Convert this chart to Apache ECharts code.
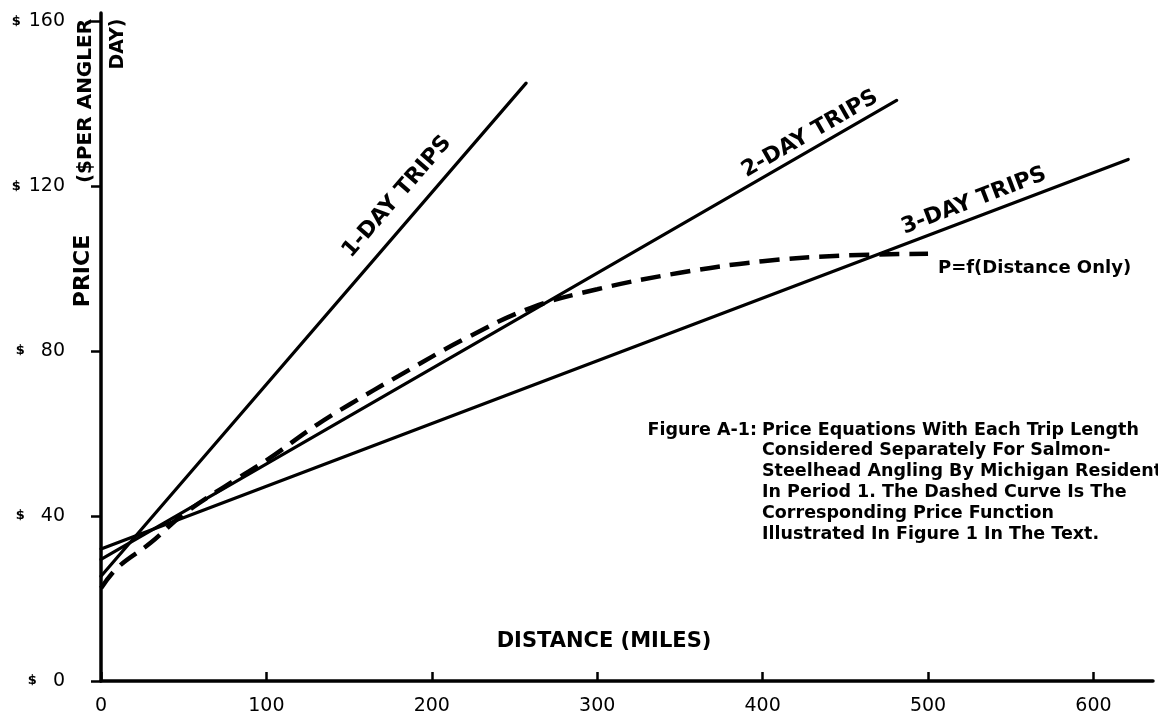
<!DOCTYPE html>
<html>
<head>
<meta charset="utf-8">
<script src="https://cdn.jsdelivr.net/npm/echarts@6/dist/echarts.min.js"></script>
<style>
html,body{margin:0;padding:0;background:#fff;}
#chart{width:1158px;height:723px;}
</style>
</head>
<body>
<div id="chart"></div>
<script>
// ---- data ----
var xTicks = [0, 100, 200, 300, 400, 500, 600];
var yTicks = [0, 40, 80, 120, 160];
var oneDay   = [[0, 25.4], [257, 145]];
var twoDay   = [[0, 29.5], [481, 140.8]];
var threeDay = [[0, 32], [621, 126.5]];
var distOnly = [[0, 22.5], [10, 27.5], [30, 33.5], [50, 40.5], [80, 48.5], [100, 53.5],
                [130, 62], [150, 67], [180, 74], [220, 83], [260, 90.5], [300, 95],
                [350, 99], [400, 101.8], [450, 103.2], [500, 103.6]];
var captionLines = [
  'Price Equations With Each Trip Length',
  'Considered Separately For Salmon-',
  'Steelhead Angling By Michigan Resident',
  'In Period 1. The Dashed Curve Is The',
  'Corresponding Price Function',
  'Illustrated In Figure 1 In The Text.'
];

var FONT = 'DejaVu Sans';
var chart = echarts.init(document.getElementById('chart'), null, {renderer: 'canvas'});

function solid(name, data) {
  return {
    name: name, type: 'line', data: data, showSymbol: false, symbol: 'none',
    lineStyle: {color: '#000', width: 3.2, cap: 'round'}, z: 3, animation: false
  };
}

var graphics = [];
function txt(text, x, y, opt) {
  opt = opt || {};
  graphics.push({
    type: 'text', x: x, y: y, rotation: opt.rot ? opt.rot * Math.PI / 180 : 0,
    style: {
      text: text, fill: '#000', font: 'bold ' + (opt.size || 18) + 'px "' + FONT + '"',
      textAlign: opt.align || 'center', textVerticalAlign: 'middle'
    },
    z: 10
  });
}
txt('1-DAY TRIPS', 397, 197, {rot: 49, size: 22});
txt('2-DAY TRIPS', 810, 134, {rot: 30, size: 22});
txt('3-DAY TRIPS', 974, 201, {rot: 21, size: 22});
txt('P=f(Distance Only)', 938, 268, {align: 'left', size: 18});
txt('DISTANCE (MILES)', 604, 642, {size: 21});
txt('PRICE', 83, 271, {rot: 90, size: 22});
txt('($PER ANGLER', 86, 101, {rot: 90, size: 20});
txt('DAY)', 118, 44, {rot: 90, size: 19});
txt('Figure A-1:', 757, 430, {align: 'right', size: 17.5});
captionLines.forEach(function (l, i) {
  txt(l, 762, 430 + i * 20.8, {align: 'left', size: 17.5});
});

var option = {
  backgroundColor: '#fff',
  animation: false,
  grid: {left: 101, right: 5, top: 13, bottom: 42, containLabel: false},
  xAxis: {
    type: 'value', min: 0, max: 636, interval: 100,
    axisLine: {show: true, onZero: false, lineStyle: {color: '#000', width: 3.5}},
    axisTick: {show: true, inside: true, length: 9, lineStyle: {color: '#000', width: 2.5},
               customValues: xTicks},
    axisLabel: {
      customValues: xTicks, margin: 16, color: '#000',
      fontFamily: FONT, fontSize: 19, fontWeight: 'normal',
      formatter: function (v) { return xTicks.indexOf(v) >= 0 ? String(v) : ''; }
    },
    splitLine: {show: false}
  },
  yAxis: {
    type: 'value', min: 0, max: 162, interval: 40,
    axisLine: {show: true, onZero: false, lineStyle: {color: '#000', width: 3.5}},
    axisTick: {show: true, inside: false, length: 10, lineStyle: {color: '#000', width: 2.5},
               customValues: yTicks},
    axisLabel: {
      customValues: yTicks, margin: 36, color: '#000', align: 'right',
      formatter: function (v) {
        if (yTicks.indexOf(v) < 0) return '';
        return '{d|$}' + (v >= 100 ? '{s1|}' : '{s2|}') + '{n|' + v + '}';
      },
      rich: {
        d: {fontFamily: FONT, fontSize: 13, fontWeight: 'bold', color: '#000', verticalAlign: 'middle'},
        s1: {width: 8},
        s2: {width: 16},
        n: {fontFamily: FONT, fontSize: 19, color: '#000', verticalAlign: 'middle'}
      }
    },
    splitLine: {show: false}
  },
  series: [
    solid('1-Day Trips', oneDay),
    solid('2-Day Trips', twoDay),
    solid('3-Day Trips', threeDay),
    {
      name: 'P=f(Distance Only)', type: 'line', data: distOnly, smooth: 0.4,
      showSymbol: false, symbol: 'none', z: 4,
      lineStyle: {color: '#000', width: 4.5, type: [20, 10]}
    }
  ],
  graphic: graphics
};
chart.setOption(option);
</script>
</body>
</html>
